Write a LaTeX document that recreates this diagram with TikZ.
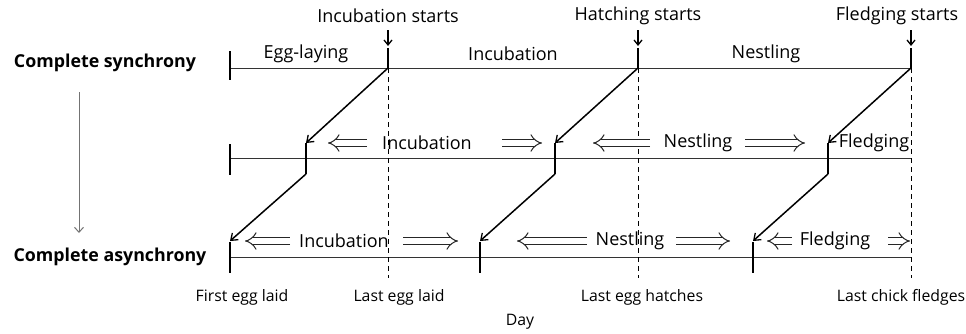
\documentclass[tikz,border=0pt]{standalone}
\usepackage{fontspec}
\setmainfont{Open Sans}
\usetikzlibrary{arrows.meta}
\tikzset{
  phaseline/.style={draw=black!80,line width=0.8pt},
  tickbar/.style={draw=black,line width=2.2pt},
  shiftarrow/.style={draw=black,line width=1.5pt,-{Straight Barb[length=6pt,width=9pt,line width=1.3pt]}},
  eventarrow/.style={draw=black,line width=1.3pt,-{Straight Barb[length=5pt,width=8pt]}},
  guideline/.style={draw=black,line width=0.9pt,dash pattern=on 5pt off 4pt},
  hollowarrow/.style={draw=black!85,double,double distance=5.2pt,line width=1pt,-{Implies}},
  lbl/.style={font=\fontsize{18}{21}\selectfont,inner sep=1pt},
  daylbl/.style={font=\fontsize{15.8}{18}\selectfont,inner sep=1pt},
  modelbl/.style={font=\fontsize{17.8}{21}\selectfont\bfseries,inner sep=1pt}
}
\begin{document}
\begin{tikzpicture}[x=1pt,y=-1pt]
      \useasboundingbox (0,0) rectangle (966,333);
      % rows
      \coordinate (s0) at (230,68);
      \coordinate (s1) at (388,68);
      \coordinate (s2) at (638,68);
      \coordinate (s3) at (911,68);
      \coordinate (m0) at (230,158);
      \coordinate (m3) at (911,158);
      \coordinate (a0) at (230,257);
      \coordinate (a3) at (911,257);
      \draw[phaseline] (s0) -- (s3);
      \draw[phaseline] (m0) -- (m3);
      \draw[phaseline] (a0) -- (a3);
      % start ticks
      \draw[tickbar] (230,51) -- (230,80);
      \draw[tickbar] (230,144) -- (230,175);
      \draw[tickbar] (230,242) -- (230,273);
      \foreach \x in {388,638,911}
        \draw[tickbar] (\x,48) -- (\x,68);
      % shifted ticks
      \coordinate (m1t) at (306,143); \coordinate (m1b) at (306,174);
      \coordinate (m2t) at (555,143); \coordinate (m2b) at (555,174);
      \coordinate (m3t) at (828,143); \coordinate (m3b) at (828,174);
      \coordinate (a1t) at (230,241);
      \coordinate (a2t) at (480,241); \coordinate (a2b) at (480,273);
      \coordinate (a3t) at (753,241); \coordinate (a3b) at (753,273);
      \draw[tickbar] (m1t) -- (m1b);
      \draw[tickbar] (m2t) -- (m2b);
      \draw[tickbar] (m3t) -- (m3b);
      \draw[tickbar] (480,242) -- (a2b);
      \draw[tickbar] (753,242) -- (a3b);
      % dashed guides
      \coordinate (d1) at (388,278);
      \coordinate (d2) at (638,278);
      \coordinate (d3) at (911,278);
      \draw[guideline] (s1) -- (d1);
      \draw[guideline] (s2) -- (d2);
      \draw[guideline] (s3) -- (d3);
      % shifts
      \draw[shiftarrow] (s1) -- (m1t);
      \draw[shiftarrow] (s2) -- (m2t);
      \draw[shiftarrow] (s3) -- (m3t);
      \draw[shiftarrow] (m1b) -- (a1t);
      \draw[shiftarrow] (m2b) -- (a2t);
      \draw[shiftarrow] (m3b) -- (a3t);
      % events
      \node[lbl] (e1) at (388,16) {Incubation starts};
      \node[lbl] (e2) at (638,16) {Hatching starts};
      \node[lbl] (e3) at (897,16) {Fledging starts};
      \draw[eventarrow] (388,30) -- (388,46);
      \draw[eventarrow] (638,30) -- (638,46);
      \draw[eventarrow] (911,30) -- (911,46);
      % top row phases
      \node[lbl] (p1) at (306,54) {Egg-laying};
      \node[lbl] (p2) at (513,54) {Incubation};
      \node[lbl] (p3) at (766,54) {Nestling};
      % middle row phases
      \node[lbl] (q1) at (427,143) {Incubation};
      \node[lbl] (q2) at (698,143) {Nestling};
      \node[lbl] (q3) at (874,143) {Fledging};
      \draw[hollowarrow] (367,143) -- (328,143);
      \draw[hollowarrow] (502,143) -- (542,143);
      \draw[hollowarrow] (650,143) -- (593,143);
      \draw[hollowarrow] (745,143) -- (805,143);
      % bottom row phases
      \node[lbl] (r1) at (344,241) {Incubation};
      \node[lbl] (r2) at (630,241) {Nestling};
      \node[lbl] (r3) at (835,241) {Fledging};
      \draw[hollowarrow] (290,241) -- (245,241);
      \draw[hollowarrow] (403,241) -- (458,241);
      \draw[hollowarrow] (587,241) -- (517,241);
      \draw[hollowarrow] (676,241) -- (730,241);
      \draw[hollowarrow] (792,241) -- (767,241);
      \draw[hollowarrow] (888,241) -- (910,241);
      % day labels
      \node[daylbl] (t1) at (242,297) {First egg laid};
      \node[daylbl] (t2) at (399,297) {Last egg laid};
      \node[daylbl] (t3) at (642,297) {Last egg hatches};
      \node[daylbl] (t4) at (901,297) {Last chick fledges};
      \node[daylbl] (day) at (520,322) {Day};
      % modes
      \node[modelbl] (sync) at (105,63) {Complete synchrony};
      \node[modelbl] (async) at (110,257) {Complete asynchrony};
      \draw[draw=black!55,line width=1pt,-{Straight Barb[length=5pt,width=9pt]}] (79,92) -- (79,233);
\end{tikzpicture}
\end{document}
